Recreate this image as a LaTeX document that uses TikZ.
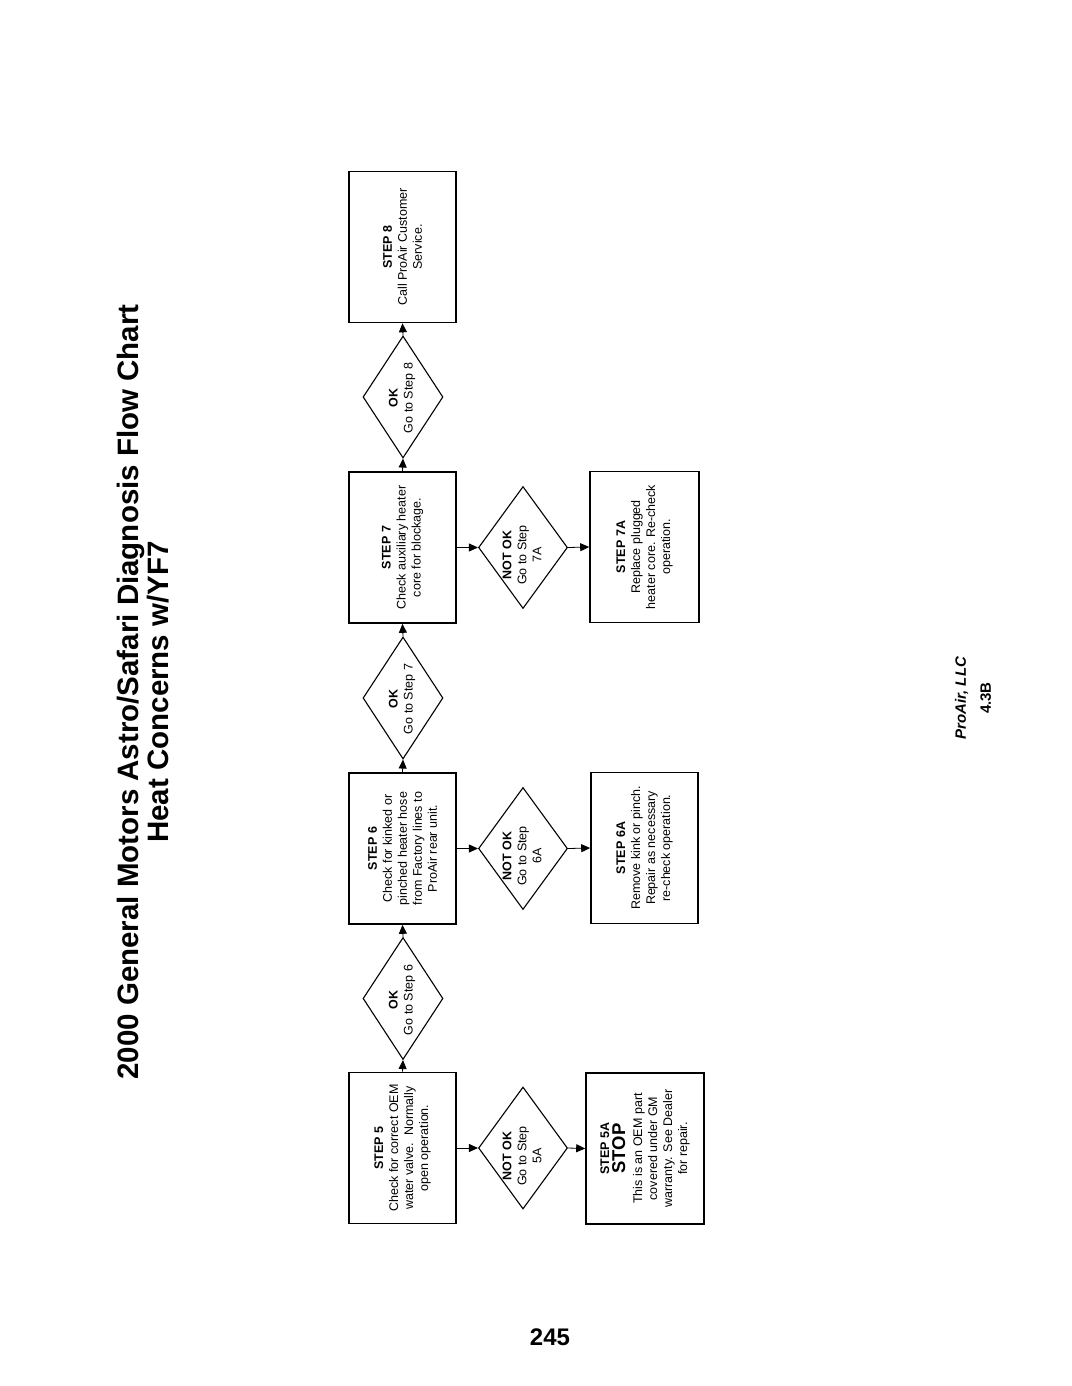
\documentclass[tikz,border=0pt]{standalone}
\usepackage{fontspec}
\setmainfont{Liberation Sans}
\usetikzlibrary{shapes.geometric,arrows.meta}

\begin{document}
\begin{tikzpicture}[x=1pt, y=-1pt,
		stepbox/.style={draw, line width=1.6pt, rotate=90, minimum width=151pt, minimum height=107pt, inner sep=0pt, align=center, font=\fontsize{12.5}{15}\selectfont},
		decision/.style={draw, diamond, line width=1.1pt, rotate=90, minimum width=122pt, minimum height=80pt, inner sep=0pt},
		dtext/.style={rotate=90, align=center, inner sep=0pt, font=\fontsize{12.5}{15}\selectfont},
		flow/.style={line width=0.8pt, -{Triangle[length=9pt, width=8pt]}}]
			%%%%% START %%%%%
			
			\fill[white] (0, 0) rectangle (1071, 1386);
			\useasboundingbox (0, 0) rectangle (1071, 1386);
			
			\node[rotate=90, align=center, font=\bfseries\fontsize{29.5}{30}\selectfont] (title) at (143, 692) {2000 General Motors Astro/Safari Diagnosis Flow Chart\\Heat Concerns w/YF7};
			
			% main steps
			\node[stepbox] (step5) at (402.5, 1148) {\textbf{STEP 5}\\Check for correct OEM\\water valve.\ \ Normally\\open operation.};
			\node[stepbox] (step6) at (402.5, 848.5) {\textbf{STEP 6}\\Check for kinked or\\pinched heater hose\\from Factory lines to\\ProAir rear unit.};
			\node[stepbox] (step7) at (402.5, 547.5) {\textbf{STEP 7}\\Check auxiliary heater\\core for blockage.};
			\node[stepbox] (step8) at (402.5, 247) {\textbf{STEP 8}\\Call ProAir Customer\\Service.};
			
			\node[decision] (ok6) at (403, 998.5) {};
			\node[dtext] (ok6text) at (402, 1000) {\textbf{OK}\\Go to Step 6};
			\node[decision] (ok7) at (403, 698) {};
			\node[dtext] (ok7text) at (402, 699) {\textbf{OK}\\Go to Step 7};
			\node[decision] (ok8) at (403, 397) {};
			\node[dtext] (ok8text) at (402, 398) {\textbf{OK}\\Go to Step 8};
			
			% side branches
			\node[decision, minimum height=89pt] (notok5) at (523, 1148) {};
			\node[dtext] (notok5text) at (522, 1156) {\textbf{NOT OK}\\Go to Step\\5A};
			\node[decision, minimum height=89pt] (notok6) at (523, 848.5) {};
			\node[dtext] (notok6text) at (522, 856) {\textbf{NOT OK}\\Go to Step\\6A};
			\node[decision, minimum height=89pt] (notok7) at (523, 547.5) {};
			\node[dtext] (notok7text) at (522, 555) {\textbf{NOT OK}\\Go to Step\\7A};
			
			\node[stepbox, minimum height=118pt] (step5a) at (645, 1148.5) {\textbf{STEP 5A}\\[1pt]{\bfseries\fontsize{18.5}{20}\selectfont STOP}\\[2pt]This is an OEM part\\covered under GM\\warranty. See Dealer\\for repair.};
			\node[stepbox] (step6a) at (644.5, 848) {\textbf{STEP 6A}\\Remove kink or pinch.\\Repair as necessary\\re-check operation.};
			\node[stepbox, minimum height=109pt] (step7a) at (644.5, 547) {\textbf{STEP 7A}\\Replace plugged\\heater core. Re-check\\operation.};
			
			% connectors
			\draw[flow] (step5.east) -- (ok6.west);
			\draw[flow] (ok6.east) -- (step6.west);
			\draw[flow] (step6.east) -- (ok7.west);
			\draw[flow] (ok7.east) -- (step7.west);
			\draw[flow] (step7.east) -- (ok8.west);
			\draw[flow] (ok8.east) -- (step8.west);
			
			\draw[flow] (step5.south) -- (notok5.north);
			\draw[flow] (notok5.south) -- (step5a.north);
			\draw[flow] (step6.south) -- (notok6.north);
			\draw[flow] (notok6.south) -- (step6a.north);
			\draw[flow] (step7.south) -- (notok7.north);
			\draw[flow] (notok7.south) -- (step7a.north);
			
			\node[rotate=90, align=center, font=\bfseries\fontsize{15}{25}\selectfont] (company) at (973, 698) {\textit{ProAir, LLC}\\4.3B};
			\node[font=\bfseries\fontsize{24}{24}\selectfont] (pagenum) at (550, 1337) {245};
			
			%%%%% END %%%%%
\end{tikzpicture}
\end{document}
